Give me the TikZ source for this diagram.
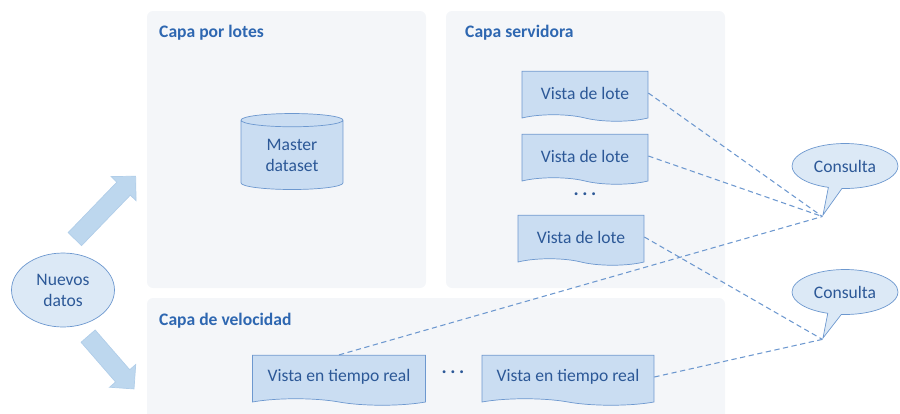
\documentclass[tikz,border=0pt]{standalone}
\usepackage{fontspec}
\setmainfont{Carlito}
\usepackage{xcolor}
\definecolor{Ink}{HTML}{2C5897}
\definecolor{Title}{HTML}{2E67B1}
\definecolor{Edge}{HTML}{6D98CF}
\definecolor{BoxFill}{HTML}{CADDF2}
\definecolor{SoftFill}{HTML}{DCE9F6}
\definecolor{Panel}{HTML}{F4F6F9}
\definecolor{ArrowFill}{HTML}{BDD7EE}
\usepackage{tikz}
\usetikzlibrary{shapes.geometric,shapes.symbols,shapes.callouts,shapes.arrows}

\begin{document}
\begin{tikzpicture}[x=0.02cm,y=-0.02cm,font=\fontsize{10}{12}\selectfont,
  panel/.style={fill=Panel,rounded corners=1.2mm},
  layer/.style={anchor=west,font=\fontsize{10}{12}\selectfont\bfseries,text=Title},
  docbox/.style={tape,tape bend top=none,tape bend bottom=out and in,tape bend height=1.3mm,draw=Edge,fill=BoxFill,text=Ink,minimum height=1cm,inner sep=0pt},
  store/.style={cylinder,shape border rotate=90,aspect=0.25,draw=Edge,fill=BoxFill,text=Ink,minimum width=2.04cm,minimum height=1.52cm,align=center,inner sep=0pt},
  source/.style={ellipse,draw=Edge,fill=SoftFill,text=Ink,minimum width=2.06cm,minimum height=1.48cm,align=center,inner sep=0pt},
  query/.style={ellipse callout,draw=Edge,fill=SoftFill,text=Ink,minimum width=2.12cm,minimum height=0.9cm,inner sep=0pt},
  feed/.style={single arrow,fill=ArrowFill,draw=ArrowFill!85!Edge,inner xsep=0pt,inner ysep=0.18cm,single arrow head extend=0.16cm},
  gap/.style={text=Ink,font=\fontsize{11}{12}\selectfont\bfseries},
  link/.style={draw=Edge,semithick,dash pattern=on 3pt off 2pt}
]
\useasboundingbox (0,0) rectangle (900,413);
\fill[panel] (147,11) rectangle (426,288);
\fill[panel] (446,11) rectangle (725,288);
\fill[panel] (147,298) rectangle (725,420);
\node[layer] (tbatch) at (153,33) {Capa por lotes};
\node[layer] (tserve) at (459,33) {Capa servidora};
\node[layer] (tspeed) at (153,321) {Capa de velocidad};
\node[store] (master) at (292,155) {Master\\dataset};
\node[docbox,minimum width=2.52cm] (v1) at (585,93) {Vista de lote};
\node[docbox,minimum width=2.52cm] (v2) at (585,156) {Vista de lote};
\node[gap] (vdots) at (585,194) {.\hspace{2pt}.\hspace{2pt}.};
\node[docbox,minimum width=2.52cm] (v3) at (581,237) {Vista de lote};
\node[docbox,minimum width=3.46cm] (r1) at (339,377) {Vista en tiempo real};
\node[gap] (rdots) at (453,372) {.\hspace{2pt}.\hspace{2pt}.};
\node[docbox,minimum width=3.44cm] (r2) at (568,377) {Vista en tiempo real};
\node[source] (new) at (63,290) {Nuevos\\datos};
\node[query,callout absolute pointer={(823,215)}] (q1) at (845,166) {Consulta};
\node[query,callout absolute pointer={(823,338)}] (q2) at (845,292) {Consulta};
\node[feed,minimum height=1.75cm,rotate=46] (up) at (102,211) {};
\node[feed,minimum height=1.4cm,rotate=-49] (down) at (108,359) {};
\draw[link] (v1.east) -- (q1.pointer);
\draw[link] (v2.east) -- (q1.pointer);
\draw[link] (r1.north) -- (q1.pointer);
\draw[link] (v3.east) -- (q2.pointer);
\draw[link] (r2.east) -- (q2.pointer);
\end{tikzpicture}
\end{document}
